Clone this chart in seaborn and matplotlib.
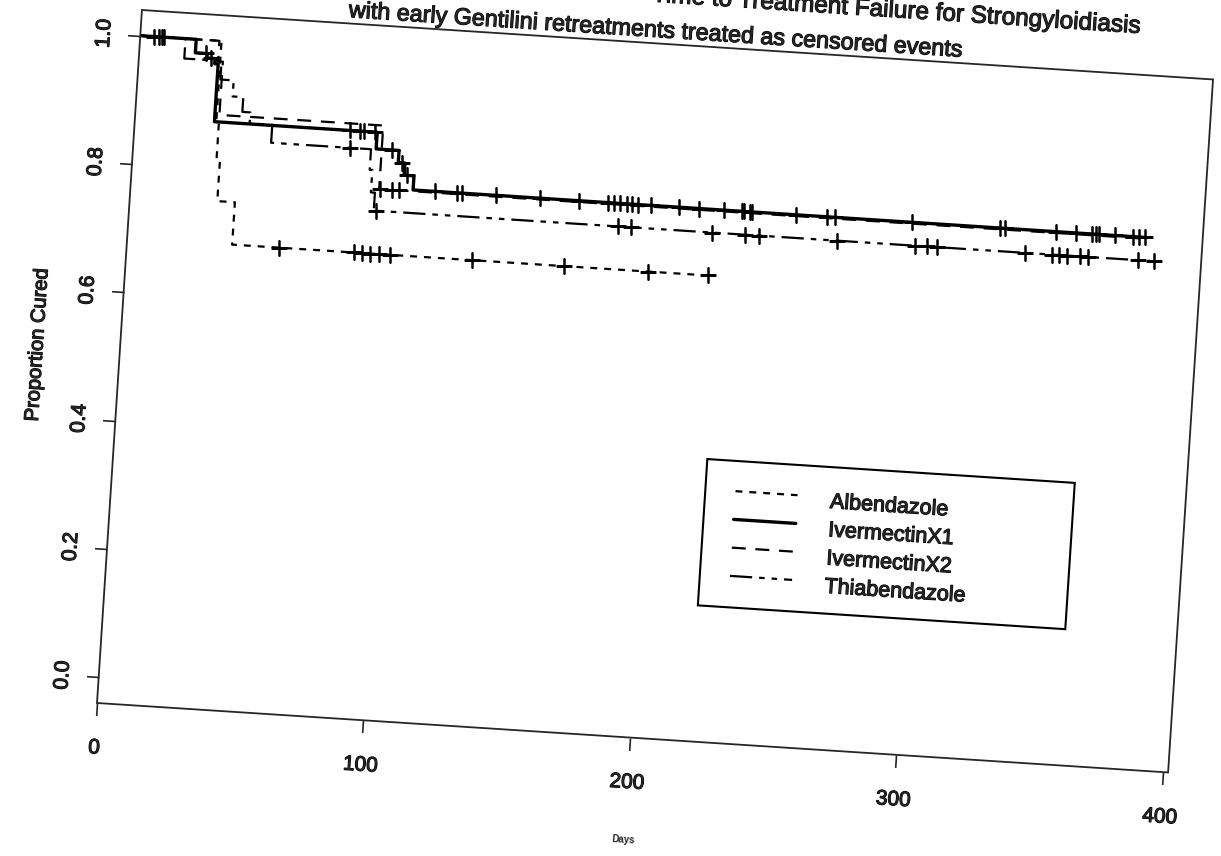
import numpy as np
import pandas as pd
import matplotlib
matplotlib.use("Agg")
import matplotlib.pyplot as plt
import matplotlib.patheffects as pe
import seaborn as sns
from matplotlib.transforms import Affine2D
from matplotlib.patches import Rectangle
import mpl_toolkits.axisartist.floating_axes as floating_axes
from mpl_toolkits.axisartist.grid_finder import FixedLocator

# ---------------- data ----------------
groups = ["Albendazole", "IvermectinX1", "IvermectinX2", "Thiabendazole"]

alb_time = [0, 30.5, 31.5, 32.8, 39.4]
alb_surv = [1.0, 0.874, 0.813, 0.751, 0.685]
alb_end = 218
alb_cens = [9, 57, 85, 88, 91, 94.5, 98.5, 129.5, 164, 195.5, 218]

iv1_time = [0, 21, 25.5, 28.5, 29.8, 90.9, 99.5, 102, 105.7]
iv1_surv = [1.0, 0.979, 0.972, 0.964, 0.874, 0.848, 0.829, 0.81, 0.788]
iv1_end = 381
iv1_cens = [5, 8, 25, 27, 80.8, 84.3, 86, 90, 97, 101, 103, 114, 122, 124, 137,
            153.5, 168, 179, 181, 183.5, 186, 188, 190, 195, 205.6, 213, 222.5,
            229, 230, 232, 233, 249.5, 261, 264, 293, 326, 328, 347, 354.6,
            360.6, 362, 363, 369, 376, 378, 380.5]

iv2_time = [0, 29.7, 31.5, 93]
iv2_surv = [1.0, 0.968, 0.885, 0.786]
iv2_end = 379
iv2_cens = [7, 93.4, 98, 100.6]

thi_time = [0, 17, 31, 36, 40, 43, 51.5, 89, 90, 91.5]
thi_surv = [1.0, 0.969, 0.94, 0.915, 0.892, 0.875, 0.847, 0.815, 0.78, 0.752]
thi_end = 386
thi_cens = [81, 92.2, 183, 188, 218.5, 231, 236, 265.5, 294.7, 299, 303, 336,
            346, 348.7, 351.7, 356.6, 359.6, 378.4, 384.4]

x_ticks = [0, 100, 200, 300, 400]
y_ticks = [0.0, 0.2, 0.4, 0.6, 0.8, 1.0]
y_tick_labels = ["0.0", "0.2", "0.4", "0.6", "0.8", "1.0"]

title_line1 = "Time to Treatment Failure for Strongyloidiasis"
title_line2 = "with early Gentilini retreatments treated as censored events"
x_label = "Days"
y_label = "Proportion Cured"

# ---------------- styles ----------------
sns.set_style("white")
plt.rcParams["font.family"] = ["Liberation Sans", "DejaVu Sans"]
plt.rcParams["lines.scale_dashes"] = False

styles = {
    "Albendazole": dict(lw=1.6, ls=(0, (5, 5))),
    "IvermectinX1": dict(lw=2.4, ls="-"),
    "IvermectinX2": dict(lw=1.6, ls=(0, (10, 7))),
    "Thiabendazole": dict(lw=1.6, ls=(0, (16, 5, 4, 5, 4, 5))),
}

series = {
    "Albendazole": (alb_time, alb_surv, alb_end, alb_cens),
    "IvermectinX1": (iv1_time, iv1_surv, iv1_end, iv1_cens),
    "IvermectinX2": (iv2_time, iv2_surv, iv2_end, iv2_cens),
    "Thiabendazole": (thi_time, thi_surv, thi_end, thi_cens),
}

heavy = [pe.withStroke(linewidth=0.8, foreground="black")]

# ---------------- figure with a slightly rotated (scanned) plot ----------------
W, H = 1221, 856
fig = plt.figure(figsize=(W / 100, H / 100), dpi=100)
fig.patch.set_facecolor("white")

ANGLE = -3.71
SX, SY = 2.67, 643.0
XLIM = (0, 402)
YLIM = (-0.04, 1.04)
tr = Affine2D().scale(SX, SY).rotate_deg(ANGLE)

gh = floating_axes.GridHelperCurveLinear(
    tr, extremes=(XLIM[0], XLIM[1], YLIM[0], YLIM[1]),
    grid_locator1=FixedLocator(x_ticks),
    grid_locator2=FixedLocator(y_ticks))

corners = tr.transform([[XLIM[0], YLIM[0]], [XLIM[0], YLIM[1]],
                        [XLIM[1], YLIM[0]], [XLIM[1], YLIM[1]]])
cmin = corners.min(axis=0)
cmax = corners.max(axis=0)
bw, bh = cmax - cmin
bl = corners[0]
left_px = 97 - (bl[0] - cmin[0])
bottom_px = (H - 703) - (bl[1] - cmin[1])
# floating axes pad their limits by 2%, so enlarge the box to keep 1 unit = 1 px
cx, cy = left_px + bw / 2, bottom_px + bh / 2
bw2, bh2 = bw * 1.02, bh * 1.02
ax = fig.add_axes([(cx - bw2 / 2) / W, (cy - bh2 / 2) / H, bw2 / W, bh2 / H],
                  axes_class=floating_axes.FloatingAxes, grid_helper=gh)
aux = ax.get_aux_axes(tr)
aux.patch = ax.patch
ax.patch.zorder = 0.9

for side in ["left", "bottom", "right", "top"]:
    a = ax.axis[side]
    a.line.set_linewidth(1.3)
    a.major_ticklabels.set_visible(False)
    a.label.set_visible(False)
    a.major_ticks.set_tick_out(True)
    a.major_ticks.set_ticksize(9)
    a.major_ticks.set_markeredgewidth(1.2)
    a.minor_ticks.set_visible(False)
ax.axis["top"].major_ticks.set_visible(False)
ax.axis["right"].major_ticks.set_visible(False)

# ---------------- curves ----------------
for name in groups:
    t, s, end, cens = series[name]
    t_full = np.r_[np.asarray(t, float), end]
    s_full = np.r_[np.asarray(s, float), s[-1]]
    st = styles[name]
    sns.lineplot(x=t_full, y=s_full, ax=aux, estimator=None, sort=False,
                 drawstyle="steps-post", color="black", linewidth=st["lw"],
                 linestyle=st["ls"])
    cens = np.asarray(cens, float)
    idx = np.searchsorted(np.asarray(t, float), cens, side="right") - 1
    cens_s = np.asarray(s, float)[idx]
    sns.scatterplot(x=cens, y=cens_s, ax=aux, marker="+", s=140, color="black",
                    linewidth=1.8)

# ---------------- text ----------------
tick_fs = 15
for v in x_ticks:
    aux.text(v, YLIM[0] - 0.07, f"{v}", rotation=ANGLE, rotation_mode="anchor",
             ha="center", va="center", fontsize=tick_fs, path_effects=heavy)
for v, lab in zip(y_ticks, y_tick_labels):
    aux.text(-13.5, v, lab, rotation=90 + ANGLE, rotation_mode="anchor",
             ha="center", va="center", fontsize=tick_fs, path_effects=heavy)

aux.text(-31, 0.51, y_label, rotation=90 + ANGLE, rotation_mode="anchor",
         ha="center", va="center", fontsize=14.5, path_effects=heavy)
aux.text(200, -0.20, x_label, rotation=ANGLE, rotation_mode="anchor",
         ha="center", va="center", fontsize=7, fontweight="bold")

aux.text(193, 1.060, title_line2, rotation=ANGLE, rotation_mode="anchor",
         ha="center", va="center", fontsize=16.8, path_effects=heavy)
aux.text(373, 1.114, title_line1, rotation=ANGLE, rotation_mode="anchor",
         ha="right", va="center", fontsize=17.5, path_effects=heavy)

# ---------------- legend (drawn in the rotated frame) ----------------
leg_x0, leg_x1 = 222.2, 360.1
leg_y0, leg_y1 = 0.172, 0.400
aux.add_patch(Rectangle((leg_x0, leg_y0), leg_x1 - leg_x0, leg_y1 - leg_y0,
                        fill=False, edgecolor="black", linewidth=1.5, zorder=5))
row_s = [0.353, 0.309, 0.265, 0.221]
for name, rs in zip(groups, row_s):
    st = styles[name]
    aux.plot([233.5, 256.8], [rs, rs], color="black", linewidth=st["lw"],
             linestyle=st["ls"])
    aux.text(269.1, rs - 0.008, name, rotation=ANGLE, rotation_mode="anchor",
             ha="left", va="center", fontsize=15.5, path_effects=heavy)

fig.savefig("out.png", dpi=100, facecolor="white")
